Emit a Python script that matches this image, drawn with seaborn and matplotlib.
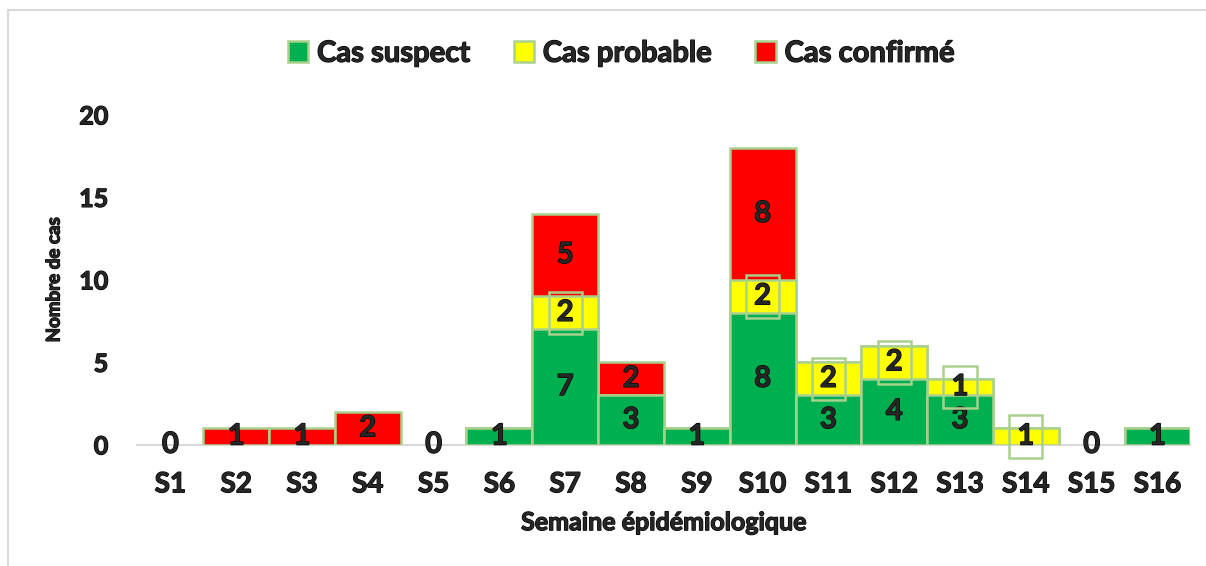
import matplotlib
matplotlib.use('Agg')
import matplotlib.pyplot as plt
import matplotlib.patheffects as pe
from matplotlib.patches import Patch, Rectangle
import seaborn as sns
import numpy as np

# Données
semaines = ['S1', 'S2', 'S3', 'S4', 'S5', 'S6', 'S7', 'S8',
            'S9', 'S10', 'S11', 'S12', 'S13', 'S14', 'S15', 'S16']
suspect = [0, 0, 0, 0, 0, 1, 7, 3, 1, 8, 3, 4, 3, 0, 0, 1]
probable = [0, 0, 0, 0, 0, 0, 2, 0, 0, 2, 2, 2, 1, 1, 0, 0]
confirme = [0, 1, 1, 2, 0, 0, 5, 2, 0, 8, 0, 0, 0, 0, 0, 0]

c_vert = '#00b050'
c_jaune = '#ffff00'
c_rouge = '#ff0000'
c_bord = '#a9d18e'

sns.set_style('white')
plt.rcParams['font.family'] = ['Lato', 'DejaVu Sans']
plt.rcParams['font.weight'] = 'bold'

# léger contour pour épaissir le texte comme dans l'original
gras = [pe.withStroke(linewidth=0.9, foreground='black')]

fig = plt.figure(figsize=(12.06, 5.66), dpi=100)
ax = fig.add_axes([0.114, 0.214, 0.873, 0.583])

s = np.array(suspect)
p = np.array(probable)
c = np.array(confirme)

# Empilement : on superpose les cumuls (total, puis suspect+probable, puis suspect)
for hauteur, couleur in [(s + p + c, c_rouge), (s + p, c_jaune), (s, c_vert)]:
    h = np.where(hauteur > 0, hauteur, np.nan)
    sns.barplot(x=semaines, y=h, order=semaines, color=couleur, saturation=1,
                width=1.0, edgecolor=c_bord, linewidth=1.8, ax=ax)

# Étiquettes de données
taille = 21
for i in range(len(semaines)):
    if s[i] + p[i] + c[i] == 0:
        ax.text(i, 0, '0', ha='center', va='center', fontsize=taille, path_effects=gras)
        continue
    if s[i] > 0:
        ax.text(i, s[i] / 2, str(s[i]), ha='center', va='center', fontsize=taille,
                path_effects=gras)
    if p[i] > 0:
        ax.text(i, s[i] + p[i] / 2, str(p[i]), ha='center', va='center', fontsize=taille,
                path_effects=gras,
                bbox=dict(boxstyle='square,pad=0.28', fc='none', ec=c_bord, lw=1.8))
    if c[i] > 0:
        ax.text(i, s[i] + p[i] + c[i] / 2, str(c[i]), ha='center', va='center',
                fontsize=taille, path_effects=gras)

ax.set_xlim(-0.5, len(semaines) - 0.5)
ax.set_ylim(0, 20)
ax.set_yticks([0, 5, 10, 15, 20])
ax.tick_params(axis='x', length=0, labelsize=20, pad=19)
ax.tick_params(axis='y', length=0, labelsize=18, pad=21)
for lab in ax.get_xticklabels() + ax.get_yticklabels():
    lab.set_fontweight('bold')
    lab.set_path_effects(gras)

for sp in ['top', 'right', 'left']:
    ax.spines[sp].set_visible(False)
ax.spines['bottom'].set_color('#d9d9d9')
ax.spines['bottom'].set_linewidth(1.5)
ax.spines['bottom'].set_zorder(0)

ax.set_xlabel('Semaine épidémiologique', fontsize=18, fontweight='bold', labelpad=10,
              path_effects=gras)
ax.set_ylabel('Nombre de cas', fontsize=13.5, fontweight='bold', labelpad=12,
              path_effects=gras)

handles = [Patch(fc=c_vert, ec=c_bord, lw=1.8, label='Cas suspect'),
           Patch(fc=c_jaune, ec=c_bord, lw=1.8, label='Cas probable'),
           Patch(fc=c_rouge, ec=c_bord, lw=1.8, label='Cas confirmé')]
leg = fig.legend(handles=handles, loc='center', bbox_to_anchor=(0.515, 0.905), ncol=3,
                 frameon=False, fontsize=21, handlelength=0.7, handleheight=0.7,
                 handletextpad=0.3, columnspacing=1.5)
for t in leg.get_texts():
    t.set_path_effects(gras)

# Cadre du graphique
fig.add_artist(Rectangle((0.007, -0.01), 1.0, 0.993, transform=fig.transFigure,
                         fill=False, ec='#d9d9d9', lw=1.5))

fig.savefig('out.png', dpi=100)
